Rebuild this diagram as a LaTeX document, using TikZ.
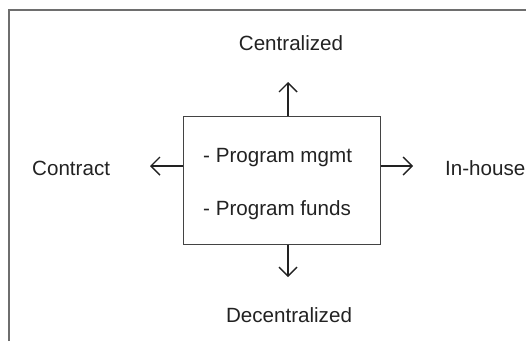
\documentclass[tikz,border=0pt]{standalone}
\usepackage{fontspec}
\setmainfont{Liberation Sans}
\usetikzlibrary{arrows.meta}
\definecolor{ink}{HTML}{222222}
\definecolor{frame}{HTML}{6E6E6E}
\begin{document}
\begin{tikzpicture}[x=1pt,y=-1pt,
  lbl/.style={inner sep=0pt, text=ink, font=\fontsize{20.6}{24}\selectfont},
  boxstyle/.style={draw=ink!85, line width=1pt, minimum width=197pt, minimum height=128pt, inner sep=0pt},
  arr/.style={draw=ink, line width=1.4pt, -{Straight Barb[length=9pt,width=18pt,line width=1.4pt]}},
  framestyle/.style={draw=frame, line width=2pt}]
\useasboundingbox (0,0) rectangle (526,341);
\draw[framestyle] (9,341) -- (9,10) -- (526,10);
\node[boxstyle] (box) at (281.5,180) {};
\node[lbl, anchor=base west] (l1) at (203,162) {- Program mgmt};
\node[lbl, anchor=base west] (l2) at (203,215) {- Program funds};
\node[lbl, anchor=base] (cen) at (291,50) {Centralized};
\node[lbl, anchor=base] (dec) at (289,322) {Decentralized};
\node[lbl, anchor=base west] (con) at (32,175) {Contract};
\node[lbl, anchor=base west] (inh) at (445,175) {In-house};
\coordinate (ut) at (288,82);
\coordinate (dt) at (288,277);
\coordinate (lt) at (150,166);
\coordinate (rt) at (413,166);
\draw[arr] (ut |- box.north) -- (ut);
\draw[arr] (dt |- box.south) -- (dt);
\draw[arr] (lt -| box.west) -- (lt);
\draw[arr] (rt -| box.east) -- (rt);
\end{tikzpicture}
\end{document}
